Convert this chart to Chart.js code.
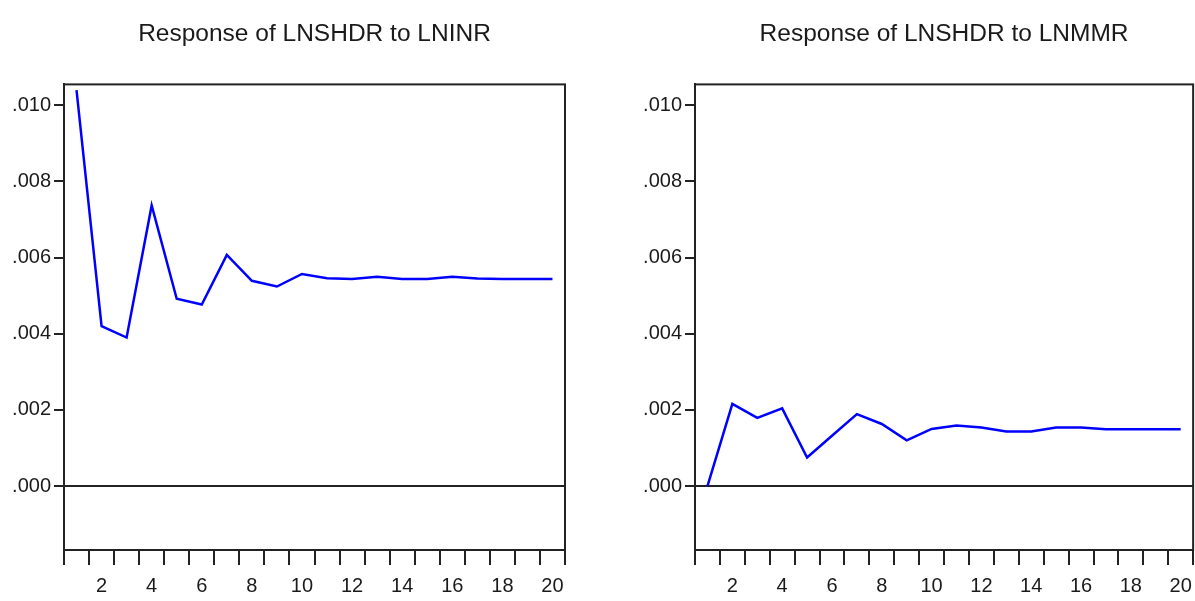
<!DOCTYPE html>
<html lang="en">

<head>
    <meta charset="UTF-8">
    <title>Impulse Responses</title>
    <script src="https://cdn.jsdelivr.net/npm/chart.js"></script>
    <style>
        body { margin: 0; background: #fff; overflow: hidden; }
        .box { position: absolute; top: 0; height: 601px; }
    </style>
</head>

<body>

    <div class="box" style="left:0px; width:595px"><canvas id="chart1"></canvas></div>
    <div class="box" style="left:600px; width:601px"><canvas id="chart2"></canvas></div>

    <script>
        // periods 1..20
        var periods = ['1', '2', '3', '4', '5', '6', '7', '8', '9', '10',
            '11', '12', '13', '14', '15', '16', '17', '18', '19', '20'];

        // response of LNSHDR to LNINR
        var respINR = [0.0104, 0.0042, 0.0039, 0.00737, 0.00492, 0.00477, 0.00607, 0.00539, 0.00524, 0.00557,
            0.00546, 0.00544, 0.0055, 0.00544, 0.00544, 0.0055, 0.00545, 0.00544, 0.00544, 0.00544];

        // response of LNSHDR to LNMMR
        var respMMR = [0, 0.00216, 0.00179, 0.00204, 0.00075, 0.00132, 0.00189, 0.00163, 0.0012, 0.0015,
            0.00159, 0.00154, 0.00143, 0.00143, 0.00154, 0.00154, 0.00149, 0.00149, 0.00149, 0.00149];

        var yMin = -0.00168, yMax = 0.01055, yStep = 0.002;

        var fontFam = "'Liberation Sans', Arial, sans-serif";

        // draws the frame round the plot area
        var frame = {
            id: 'frame',
            afterDraw: function (chart) {
                var a = chart.chartArea, ctx = chart.ctx;
                ctx.save();
                ctx.strokeStyle = '#222';
                ctx.lineWidth = 2;
                ctx.strokeRect(a.left, a.top, a.right - a.left, a.bottom - a.top);
                ctx.restore();
            }
        };

        function createChart(canvasId, title, data, yWidth, padRight) {
            var ctx = document.getElementById(canvasId).getContext('2d');
            return new Chart(ctx, {
                type: 'line',
                data: {
                    labels: periods,
                    datasets: [{
                        data: data,
                        borderColor: '#0000ff',
                        borderWidth: 2.5,
                        pointRadius: 0,
                        tension: 0,
                        fill: false
                    }]
                },
                options: {
                    responsive: true,
                    maintainAspectRatio: false,
                    animation: false,
                    layout: { autoPadding: false, padding: { left: 0, right: padRight, top: 0, bottom: 0 } },
                    plugins: {
                        legend: { display: false },
                        tooltip: { enabled: false },
                        title: {
                            display: true,
                            fullSize: false,
                            text: title,
                            color: '#1a1a1a',
                            font: { family: fontFam, size: 24.5, weight: 'normal', lineHeight: 1.2 },
                            padding: { top: 20, bottom: 35 }
                        }
                    },
                    scales: {
                        x: {
                            type: 'category',
                            offset: true,
                            grid: {
                                offset: true,
                                drawOnChartArea: false,
                                tickLength: 15,
                                tickColor: '#222',
                                lineWidth: 2
                            },
                            border: { color: '#222', width: 2 },
                            ticks: {
                                autoSkip: false,
                                maxRotation: 0,
                                padding: 9,
                                color: '#1a1a1a',
                                font: { family: fontFam, size: 20 },
                                callback: function (v, i) { return i % 2 === 1 ? periods[i] : ''; }
                            },
                            afterFit: function (s) { s.height = 51; }
                        },
                        y: {
                            min: yMin,
                            max: yMax,
                            grid: {
                                tickLength: 10,
                                tickColor: '#222',
                                lineWidth: 2,
                                color: function (c) { return c.tick && c.tick.value === 0 ? '#222' : 'rgba(0,0,0,0)'; }
                            },
                            border: { color: '#222', width: 2 },
                            ticks: {
                                stepSize: yStep,
                                includeBounds: false,
                                padding: 3,
                                color: '#1a1a1a',
                                font: { family: fontFam, size: 20 },
                                callback: function (v) { return v.toFixed(3).replace(/^0/, ''); }
                            },
                            afterFit: function (s) { s.width = yWidth; }
                        }
                    }
                },
                plugins: [frame]
            });
        }

        createChart('chart1', 'Response of LNSHDR to LNINR', respINR, 64, 30);
        createChart('chart2', 'Response of LNSHDR to LNMMR', respMMR, 95, 2);
    </script>

</body>

</html>
